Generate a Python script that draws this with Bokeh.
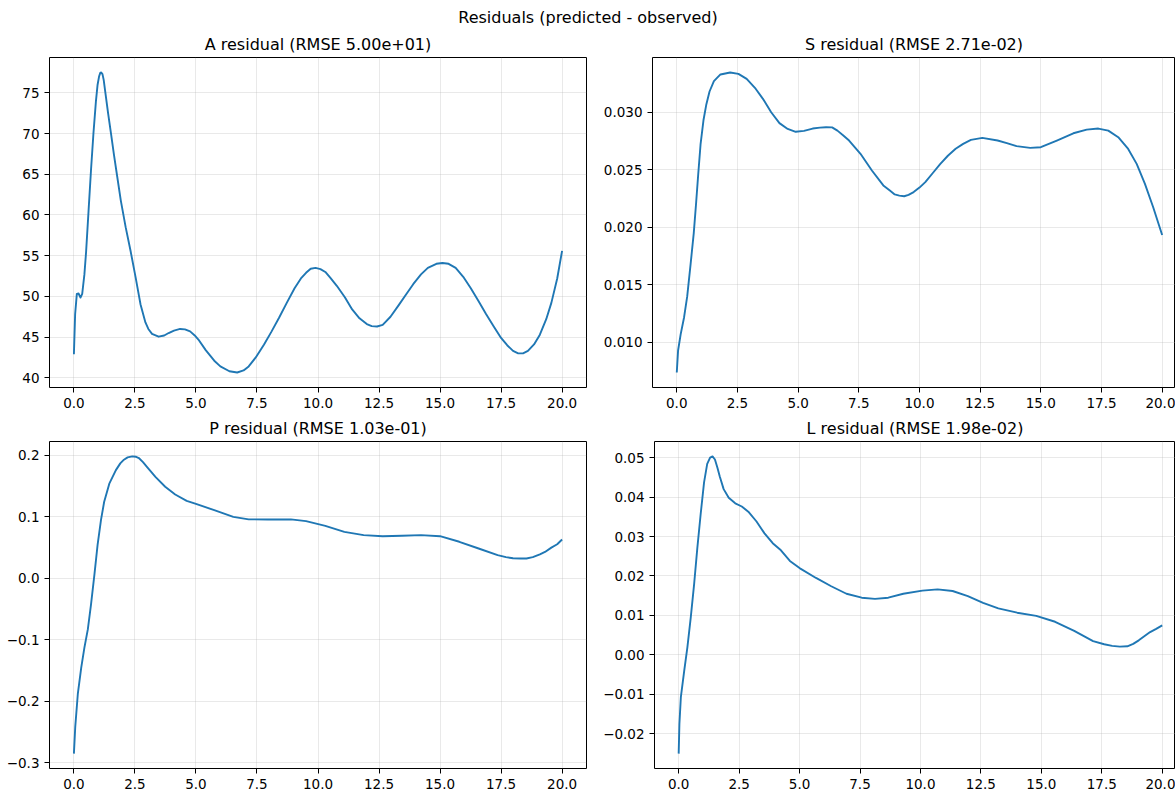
from bokeh.plotting import figure
from bokeh.models import Range1d, FixedTicker, CustomJSTickFormatter, Label
from bokeh.layouts import column, row
from bokeh.embed import file_html
from bokeh.resources import INLINE

suptitle = "Residuals (predicted - observed)"
titles = ["A residual (RMSE 5.00e+01)", "S residual (RMSE 2.71e-02)",
          "P residual (RMSE 1.03e-01)", "L residual (RMSE 1.98e-02)"]

x_ticks = [0.0, 2.5, 5.0, 7.5, 10.0, 12.5, 15.0, 17.5, 20.0]
a_ticks = [40, 45, 50, 55, 60, 65, 70, 75]
s_ticks = [0.010, 0.015, 0.020, 0.025, 0.030]
p_ticks = [-0.3, -0.2, -0.1, 0.0, 0.1, 0.2]
l_ticks = [-0.02, -0.01, 0.00, 0.01, 0.02, 0.03, 0.04, 0.05]

a_x = [0, 0.05, 0.12, 0.19, 0.27, 0.34, 0.43, 0.5, 0.6, 0.7,
       0.8, 0.9, 0.97, 1.03, 1.08, 1.12, 1.17, 1.22, 1.29, 1.4,
       1.52, 1.64, 1.76, 1.92, 2.12, 2.32, 2.53, 2.73, 2.93, 3.05,
       3.2, 3.47, 3.7, 3.88, 4.1, 4.35, 4.55, 4.76, 4.95, 5.1,
       5.4, 5.75, 6.0, 6.37, 6.69, 6.95, 7.16, 7.45, 7.79, 8.1,
       8.41, 8.72, 9.04, 9.3, 9.51, 9.7, 9.9, 10.1, 10.3, 10.5,
       10.77, 11.1, 11.4, 11.7, 12.0, 12.2, 12.42, 12.65, 12.97, 13.3,
       13.6, 13.9, 14.22, 14.5, 14.85, 15.1, 15.35, 15.64, 15.95, 16.26,
       16.58, 16.89, 17.2, 17.5, 17.75, 17.99, 18.2, 18.4, 18.6, 18.85,
       19.09, 19.35, 19.56, 19.8, 20.0]
a_y = [42.9, 47.8, 50.3, 50.35, 49.85, 50.3, 52.7, 55.5, 60.5, 65.5,
       70.0, 73.9, 76.0, 77.0, 77.45, 77.5, 77.3, 76.6, 75.0, 72.5,
       70.0, 67.4, 65.0, 61.8, 58.5, 55.6, 52.3, 49.0, 46.8, 46.0,
       45.4, 45.05, 45.2, 45.5, 45.8, 46.0, 45.95, 45.7, 45.2, 44.7,
       43.4, 42.1, 41.4, 40.8, 40.65, 40.9, 41.4, 42.5, 44.1, 45.7,
       47.4, 49.2, 51.0, 52.2, 52.9, 53.4, 53.5, 53.35, 53.0, 52.3,
       51.3, 49.9, 48.4, 47.3, 46.6, 46.35, 46.3, 46.5, 47.5, 48.9,
       50.2, 51.5, 52.7, 53.5, 54.0, 54.1, 54.0, 53.5, 52.4, 51.0,
       49.4, 47.8, 46.3, 44.9, 44.0, 43.3, 43.0, 43.0, 43.3, 44.1,
       45.3, 47.2, 49.2, 52.2, 55.6]

s_x = [0, 0.054, 0.16, 0.3, 0.43, 0.57, 0.7, 0.8, 0.88, 0.98,
       1.1, 1.22, 1.35, 1.53, 1.8, 2.2, 2.54, 2.88, 3.22, 3.55,
       3.89, 4.23, 4.57, 4.9, 5.24, 5.6, 5.9, 6.15, 6.4, 6.62,
       6.85, 7.1, 7.57, 8.04, 8.51, 8.78, 8.98, 9.17, 9.37, 9.55,
       9.76, 10.0, 10.24, 10.55, 10.86, 11.17, 11.49, 11.8, 12.12, 12.59,
       13.22, 13.6, 14.0, 14.56, 15.0, 15.66, 16.34, 16.89, 17.37, 17.78,
       18.19, 18.6, 18.95, 19.29, 19.63, 20.0]
s_y = [0.00739, 0.0093, 0.0107, 0.01217, 0.0140, 0.0168, 0.0195, 0.0222, 0.0245, 0.0272,
       0.0293, 0.0307, 0.0318, 0.0327, 0.03328, 0.03345, 0.03333, 0.0329, 0.03212, 0.03116,
       0.0300, 0.02905, 0.02855, 0.02830, 0.02838, 0.02858, 0.02866, 0.0287, 0.02868, 0.0284,
       0.0280, 0.02754, 0.02639, 0.02494, 0.02364, 0.0232, 0.02286, 0.02275, 0.0227, 0.02282,
       0.02306, 0.02345, 0.02393, 0.02472, 0.02552, 0.02622, 0.02682, 0.02725, 0.0276, 0.02777,
       0.02754, 0.02732, 0.02705, 0.0269, 0.02696, 0.02754, 0.02817, 0.02849, 0.02858, 0.0284,
       0.02783, 0.02681, 0.02551, 0.02377, 0.02174, 0.01933]

p_x = [0, 0.054, 0.16, 0.3, 0.43, 0.57, 0.7, 0.84, 0.97, 1.11,
       1.24, 1.45, 1.72, 1.9, 2.05, 2.2, 2.39, 2.53, 2.66, 2.83,
       3.0, 3.34, 3.74, 4.15, 4.62, 5.0, 5.75, 6.53, 7.16, 7.94,
       8.89, 9.51, 10.3, 11.08, 11.87, 12.65, 13.44, 14.22, 15.0, 15.79,
       16.58, 17.36, 17.7, 17.99, 18.3, 18.54, 18.8, 19.09, 19.3, 19.56,
       19.8, 20.0]
p_y = [-0.285, -0.242, -0.188, -0.145, -0.1125, -0.083, -0.0425, 0.006, 0.0545, 0.095,
       0.1246, 0.154, 0.176, 0.187, 0.193, 0.1968, 0.1984, 0.1978, 0.1957, 0.189,
       0.181, 0.165, 0.149, 0.1364, 0.126, 0.121, 0.111, 0.1, 0.096, 0.0957,
       0.096, 0.093, 0.0854, 0.0757, 0.0703, 0.0686, 0.0692, 0.0703, 0.0686, 0.0595,
       0.0486, 0.0378, 0.0345, 0.0328, 0.0322, 0.0324, 0.0345, 0.039, 0.043, 0.050,
       0.0555, 0.0632]

l_x = [0, 0.03, 0.09, 0.23, 0.36, 0.5, 0.64, 0.77, 0.91, 1.05,
       1.18, 1.3, 1.4, 1.5, 1.6, 1.7, 1.86, 2.07, 2.34, 2.61,
       2.88, 3.22, 3.55, 3.89, 4.23, 4.6, 5.0, 5.68, 6.31, 6.94,
       7.57, 8.12, 8.67, 9.29, 10.08, 10.71, 11.33, 11.96, 12.59, 13.22,
       14.0, 14.79, 15.57, 16.36, 17.14, 17.6, 17.93, 18.25, 18.56, 18.8,
       19.03, 19.3, 19.5, 19.75, 20.0]
l_y = [-0.025, -0.0175, -0.0107, -0.004, 0.0019, 0.0095, 0.0180, 0.027, 0.0357, 0.0437,
       0.0484, 0.0500, 0.0503, 0.0495, 0.0475, 0.0452, 0.042, 0.0398, 0.0384, 0.0376,
       0.0363, 0.0338, 0.0308, 0.0283, 0.0265, 0.0238, 0.0220, 0.0195, 0.0174, 0.0155,
       0.0145, 0.0142, 0.0145, 0.0155, 0.0163, 0.0166, 0.0162, 0.0149, 0.0132, 0.0118,
       0.0107, 0.0099, 0.0084, 0.0061, 0.0035, 0.0027, 0.0023, 0.0021, 0.0022, 0.0028,
       0.0037, 0.0049, 0.0058, 0.0066, 0.0075]

FONT = "DejaVu Sans"
BLUE = "#1f77b4"
TOTAL_W = 1175
HEADER_H = 29


def fmt(decimals):
    return CustomJSTickFormatter(args=dict(d=decimals), code="""
        var s = tick.toFixed(d);
        if (s.charAt(0) == '-') { s = '\\u2212' + s.slice(1); }
        return s;
    """)


def make_panel(title, xs, ys, yticks, ydec, width, height, left, right, top, bottom, x_end):
    lo, hi = min(ys), max(ys)
    pad = 0.05 * (hi - lo)
    p = figure(width=width, height=height, title=title,
               x_range=Range1d(-1, x_end), y_range=Range1d(lo - pad, hi + pad),
               output_backend="svg", toolbar_location=None,
               min_border_left=left, min_border_right=right,
               min_border_top=top, min_border_bottom=bottom)
    p.title.align = "center"
    p.title.text_font = FONT
    p.title.text_font_size = "16px"
    p.title.text_font_style = "normal"
    p.title.text_color = "black"
    p.title.standoff = 7
    p.line(xs, ys, line_color=BLUE, line_width=1.9, line_join="round")
    p.xaxis.ticker = FixedTicker(ticks=x_ticks)
    p.yaxis.ticker = FixedTicker(ticks=yticks)
    p.xaxis.formatter = fmt(1)
    p.yaxis.formatter = fmt(ydec)
    for ax in (p.xaxis, p.yaxis):
        ax.axis_line_color = None
        ax.major_tick_in = 0
        ax.major_tick_out = 5
        ax.minor_tick_line_color = None
        ax.major_tick_line_color = "black"
        ax.major_tick_line_width = 1
        ax.major_label_text_font = FONT
        ax.major_label_text_font_size = "13.5px"
        ax.major_label_text_color = "black"
        ax.major_label_standoff = 5
    p.grid.grid_line_color = "#b0b0b0"
    p.grid.grid_line_alpha = 0.35
    p.grid.grid_line_width = 0.8
    p.outline_line_color = "black"
    p.outline_line_width = 1
    p.outline_line_alpha = 1
    p.background_fill_color = "white"
    p.border_fill_color = "white"
    return p


header = figure(width=TOTAL_W, height=HEADER_H, x_range=Range1d(0, TOTAL_W),
                y_range=Range1d(0, HEADER_H),
                output_backend="svg", toolbar_location=None, min_border=0,
                x_axis_location=None, y_axis_location=None)
header.grid.visible = False
header.outline_line_color = None
header.add_layout(Label(x=TOTAL_W / 2, y=HEADER_H - 17, text=suptitle, text_align="center",
                        text_baseline="middle", text_font=FONT, text_font_size="16px",
                        text_color="black"))

LW, RW = 600, TOTAL_W - 600
left_frame = LW - 49 - 14
right_frame = RW - 49
right_end = -1 + 22.0 * right_frame / left_frame

TOP_H = 28 + 330 + 26
BOT_H = 795 - HEADER_H - TOP_H

pA = make_panel(titles[0], a_x, a_y, a_ticks, 0, LW, TOP_H, 49, 14, 28, 26, 21)
pS = make_panel(titles[1], s_x, s_y, s_ticks, 3, RW, TOP_H, 49, 0, 28, 26, right_end)
pP = make_panel(titles[2], p_x, p_y, p_ticks, 1, LW, BOT_H, 49, 14, 28, 27, 21)
pL = make_panel(titles[3], l_x, l_y, l_ticks, 2, RW, BOT_H, 49, 0, 28, 27, right_end)

layout = column(header, row(pA, pS, spacing=0), row(pP, pL, spacing=0), spacing=0)

open("out.html", "w").write(file_html(layout, INLINE))
